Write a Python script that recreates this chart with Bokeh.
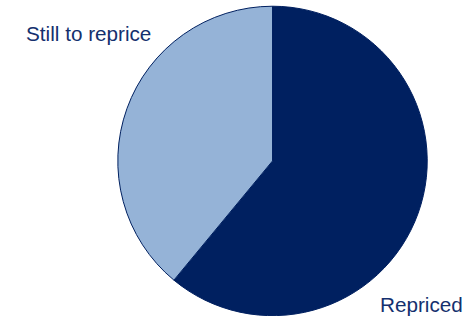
import math
from bokeh.plotting import figure
from bokeh.models import Range1d, ColumnDataSource
from bokeh.core.properties import value
from bokeh.embed import file_html
from bokeh.resources import INLINE

labels = ["Repriced", "Still to reprice"]
values = [61, 39]
colors = ["#002060", "#95B3D7"]

total = sum(values)
starts, ends = [], []
ang = math.pi / 2
for v in values:
    sweep = 2 * math.pi * v / total
    starts.append(ang)
    ends.append(ang - sweep)
    ang -= sweep

src = ColumnDataSource(dict(label=labels, start=starts, end=ends, color=colors))

W, H = 466, 316
p = figure(width=W, height=H, output_backend="svg", toolbar_location=None,
           x_range=Range1d(0, 474), y_range=Range1d(0, 324), min_border=0)
p.axis.visible = False
p.grid.visible = False
p.outline_line_color = None
p.background_fill_color = "white"
p.border_fill_color = "white"

scale = (W / 474 + H / 324) / 2
cx, cy, r = 276.7, 324 - 164.5, 158 * scale
p.wedge(x=cx, y=cy, radius=r, radius_units="screen", start_angle="start", end_angle="end",
        direction="clock", fill_color="color", line_color="#002060", line_width=1, source=src)

p.text(x=[26, 386], y=[290, 12], text=["Still to reprice", "Repriced"],
       text_font=value("Liberation Sans"), text_font_size="20.7px",
       text_color="#14306E", text_baseline="alphabetic", text_align="left")

open("out.html", "w").write(file_html(p, INLINE))
